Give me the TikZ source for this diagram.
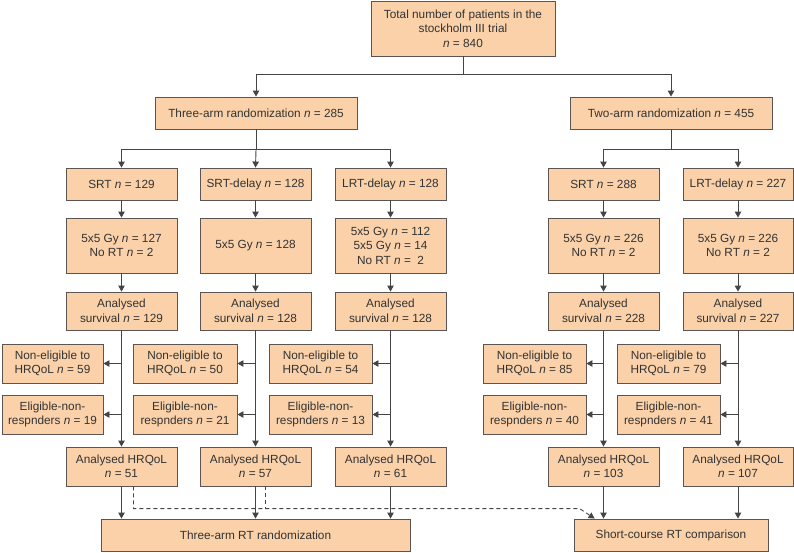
\documentclass[tikz,border=0pt]{standalone}
\usepackage{fontspec}
\setmainfont{Liberation Sans}
\usetikzlibrary{arrows.meta,calc}
\definecolor{peach}{HTML}{FAD1A9}
\definecolor{edgec}{HTML}{5A5552}
\definecolor{ink}{HTML}{333333}
\definecolor{linec}{HTML}{444444}
\newcommand{\nn}{\textit{n}}
\tikzset{
  box/.style={draw=edgec, line width=0.9pt, fill=peach, align=center, text=ink, inner sep=1pt,
    font=\fontsize{11.8}{14.5}\selectfont},
  ln/.style={draw=linec, line width=0.9pt},
  arr/.style={ln, -{Triangle[length=6pt,width=6.5pt]}},
  dashln/.style={ln, dash pattern=on 4pt off 3pt},
}
\newcommand{\bx}[6]{\node[box,minimum width={#4-#2},minimum height={#5-#3}] (#1) at ({(#2+#4)/2},{(#3+#5)/2}) {#6};}
\begin{document}
\begin{tikzpicture}[x=1pt,y=-1pt]
\useasboundingbox (0,0) rectangle (794,552);
% top levels
\bx{top}{371}{1}{555}{56}{Total number of patients in the\\stockholm III trial\\\nn{} = 840}
\bx{three}{155}{97}{357}{129}{Three-arm randomization \nn{} = 285}
\bx{two}{570}{97}{772}{129}{Two-arm randomization \nn{} = 455}
% row A
\bx{a1}{66}{168}{177}{200}{SRT \nn{} = 129}
\bx{a2}{200}{168}{311}{200}{SRT-delay \nn{} = 128}
\bx{a3}{335}{168}{446}{200}{LRT-delay \nn{} = 128}
\bx{a4}{548}{168}{659}{200}{SRT \nn{} = 288}
\bx{a5}{683}{168}{793}{200}{LRT-delay \nn{} = 227}
% row B
\bx{b1}{66}{218}{177}{273}{5x5 Gy \nn{} = 127\\No RT \nn{} = 2}
\bx{b2}{200}{218}{311}{273}{5x5 Gy \nn{} = 128}
\bx{b3}{335}{218}{446}{273}{5x5 Gy \nn{} = 112\\5x5 Gy \nn{} = 14\\No RT \nn{} =\ \ 2}
\bx{b4}{548}{218}{659}{273}{5x5 Gy \nn{} = 226\\No RT \nn{} = 2}
\bx{b5}{683}{218}{793}{273}{5x5 Gy \nn{} = 226\\No RT \nn{} = 2}
% row C
\bx{c1}{66}{292}{177}{330}{Analysed\\survival \nn{} = 129}
\bx{c2}{200}{292}{311}{330}{Analysed\\survival \nn{} = 128}
\bx{c3}{335}{292}{446}{330}{Analysed\\survival \nn{} = 128}
\bx{c4}{548}{292}{659}{330}{Analysed\\survival \nn{} = 228}
\bx{c5}{683}{292}{793}{330}{Analysed\\survival \nn{} = 227}
% non-eligible
\bx{n1}{2}{344}{103}{383}{Non-eligible to\\HRQoL \nn{} = 59}
\bx{n2}{133}{344}{237}{383}{Non-eligible to\\HRQoL \nn{} = 50}
\bx{n3}{269}{344}{372}{383}{Non-eligible to\\HRQoL \nn{} = 54}
\bx{n4}{483}{344}{586}{383}{Non-eligible to\\HRQoL \nn{} = 85}
\bx{n5}{617}{344}{720}{383}{Non-eligible to\\HRQoL \nn{} = 79}
% eligible non-responders
\bx{e1}{2}{395}{103}{434}{Eligible-non-\\respnders \nn{} = 19}
\bx{e2}{133}{395}{237}{434}{Eligible-non-\\respnders \nn{} = 21}
\bx{e3}{269}{395}{372}{434}{Eligible-non-\\respnders \nn{} = 13}
\bx{e4}{483}{395}{586}{434}{Eligible-non-\\respnders \nn{} = 40}
\bx{e5}{617}{395}{720}{434}{Eligible-non-\\respnders \nn{} = 41}
% HRQoL
\bx{h1}{66}{447}{177}{486}{Analysed HRQoL\\\nn{} = 51}
\bx{h2}{200}{447}{311}{486}{Analysed HRQoL\\\nn{} = 57}
\bx{h3}{335}{447}{446}{486}{Analysed HRQoL\\\nn{} = 61}
\bx{h4}{548}{447}{659}{486}{Analysed HRQoL\\\nn{} = 103}
\bx{h5}{683}{447}{793}{486}{Analysed HRQoL\\\nn{} = 107}
% bottom
\bx{rt3}{101}{519}{410}{551}{Three-arm RT randomization}
\bx{sc}{574}{519}{768}{551}{Short-course RT comparison}

% junctions
\coordinate (j0) at ($(top.south)+(0,18)$);
\coordinate (j1) at ($(three.south)+(0,20)$);
\coordinate (j2) at ($(two.south)+(0,20)$);
\draw[ln] (top.south) -- (j0);
\draw[arr] (j0) -| (three.north);
\draw[arr] (j0) -| (two.north);
\draw[ln] (three.south) -- (j1);
\draw[arr] (j1) -| (a1.north);
\draw[arr] (j1) -- (a2.north);
\draw[arr] (j1) -| (a3.north);
\draw[ln] (two.south) -- (j2);
\draw[arr] (j2) -| (a4.north);
\draw[arr] (j2) -| (a5.north);

\foreach \i in {1,...,5}{
  \draw[arr] (a\i.south) -- (b\i.north);
  \draw[arr] (b\i.south) -- (c\i.north);
  \draw[arr] (c\i.south) -- (h\i.north);
  \draw[arr] (c\i.south |- n\i.east) -- (n\i.east);
  \draw[arr] (c\i.south |- e\i.east) -- (e\i.east);
}
\foreach \i in {1,2,3}{
  \draw[arr] (h\i.south) -- (h\i.south |- rt3.north);
}
\foreach \i in {4,5}{
  \draw[arr] (h\i.south) -- (h\i.south |- sc.north);
}
% dashed links
\coordinate (d1) at ($(h1.south)+(12,0)$);
\coordinate (d2) at ($(h2.south)+(10,0)$);
\coordinate (dk) at ($(sc.north west)+(6,-10)$);
\coordinate (dt) at ($(sc.north west)+(21,0)$);
\draw[dashln] (d2) -- (d2 |- dk);
\draw[dashln,-{Triangle[length=6pt,width=6.5pt]}] (d1) -- (d1 |- dk) -- (dk) -- (dt);
\end{tikzpicture}
\end{document}
